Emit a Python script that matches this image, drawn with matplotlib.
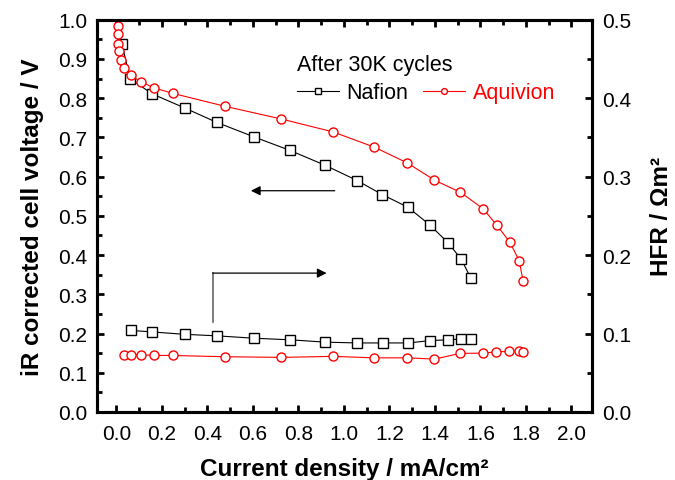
import numpy as np
import matplotlib
matplotlib.use("Agg")
import matplotlib.pyplot as plt
from matplotlib.ticker import MultipleLocator

plt.rcParams['font.family'] = ['Liberation Sans', 'DejaVu Sans']

# polarization curves (left axis)
naf_j = [0.025, 0.06, 0.157, 0.30, 0.442, 0.606, 0.762, 0.917, 1.058, 1.169, 1.281, 1.379, 1.458, 1.516, 1.557]
naf_v = [0.938, 0.850, 0.811, 0.775, 0.738, 0.701, 0.667, 0.629, 0.590, 0.554, 0.522, 0.476, 0.431, 0.389, 0.342]
aqu_j = [0.006, 0.007, 0.007, 0.012, 0.020, 0.035, 0.064, 0.107, 0.167, 0.249, 0.479, 0.724,
         0.952, 1.134, 1.278, 1.398, 1.512, 1.612, 1.672, 1.729, 1.770, 1.787]
aqu_v = [0.985, 0.964, 0.939, 0.921, 0.896, 0.877, 0.858, 0.842, 0.826, 0.812, 0.779, 0.747,
         0.714, 0.675, 0.635, 0.591, 0.560, 0.518, 0.476, 0.433, 0.386, 0.335]

# HFR (right axis)
naf_hfr_j = [0.063, 0.158, 0.30, 0.444, 0.606, 0.763, 0.919, 1.059, 1.171, 1.283, 1.379, 1.458, 1.516, 1.559]
naf_hfr = [0.104, 0.102, 0.099, 0.097, 0.094, 0.092, 0.089, 0.088, 0.088, 0.088, 0.091, 0.092, 0.093, 0.093]
aqu_hfr_j = [0.035, 0.066, 0.107, 0.167, 0.249, 0.479, 0.724, 0.952, 1.134, 1.279, 1.398,
             1.511, 1.613, 1.670, 1.727, 1.769, 1.789]
aqu_hfr = [0.0725, 0.073, 0.073, 0.0721, 0.072, 0.0704, 0.0696, 0.0709, 0.069, 0.069, 0.0674,
           0.0747, 0.075, 0.0767, 0.0772, 0.0772, 0.076]

fig = plt.figure(figsize=(6.75, 4.81), dpi=100)
ax = fig.add_axes([0.1437, 0.1414, 0.7333, 0.8156])
ax2 = ax.twinx()

mk = dict(markersize=6.5, markerfacecolor='white', markeredgewidth=1.0, linewidth=0.8)
ax.plot(naf_j, naf_v, 's-', color='black', label='Nafion', **mk)
ax.plot(aqu_j, aqu_v, 'o-', color='red', label='Aquivion', **mk)
ax2.plot(naf_hfr_j, naf_hfr, 's-', color='black', **mk)
ax2.plot(aqu_hfr_j, aqu_hfr, 'o-', color='red', **mk)

ax.set_xlim(-0.085, 2.09)
ax.set_ylim(0, 1.0)
ax2.set_ylim(0, 0.5)

ax.xaxis.set_major_locator(MultipleLocator(0.2))
ax.xaxis.set_minor_locator(MultipleLocator(0.1))
ax.yaxis.set_major_locator(MultipleLocator(0.1))
ax.yaxis.set_minor_locator(MultipleLocator(0.05))
ax2.yaxis.set_major_locator(MultipleLocator(0.1))
ax2.yaxis.set_minor_locator(MultipleLocator(0.05))

for a in (ax, ax2):
    for s in a.spines.values():
        s.set_linewidth(2.2)
    a.tick_params(which='major', direction='in', length=5, width=2.0, labelsize=15)
    a.tick_params(which='minor', direction='in', length=3.5, width=2.0)
ax.tick_params(which='both', top=True, right=False)
ax.tick_params(axis='x', which='major', pad=9)
ax.tick_params(axis='y', which='major', pad=7)
ax2.tick_params(axis='y', which='major', pad=7)

ax.set_xlabel('Current density / mA/cm²', fontsize=17.5, fontweight='bold', labelpad=10)
ax.set_ylabel('iR corrected cell voltage / V', fontsize=17.5, fontweight='bold', labelpad=10)
ax2.set_ylabel('HFR / Ωm²', fontsize=17.5, fontweight='bold', labelpad=14)

# arrows pointing to each axis
ax.annotate('', xy=(0.579, 0.564), xytext=(0.972, 0.564),
            arrowprops=dict(arrowstyle='-|>', color='black', lw=0.9, mutation_scale=14))
ax.plot([0.423, 0.423], [0.229, 0.354], color='#666666', lw=1.2)
ax.annotate('', xy=(0.924, 0.354), xytext=(0.423, 0.354),
            arrowprops=dict(arrowstyle='-|>', color='black', lw=0.9, mutation_scale=14,
                            shrinkA=0, shrinkB=0))

leg = ax.legend(title='After 30K cycles', ncol=2, frameon=False, fontsize=15.5,
                title_fontsize=15.5, loc='upper left', bbox_to_anchor=(0.405, 0.912),
                handlelength=1.95, handletextpad=0.33, columnspacing=0.7,
                borderaxespad=0, borderpad=0, labelspacing=0.2, markerscale=0.65)
leg._legend_box.align = 'left'
leg._legend_box.sep = 5
for t, c in zip(leg.get_texts(), ['black', 'red']):
    t.set_color(c)

fig.savefig('out.png', dpi=100)
